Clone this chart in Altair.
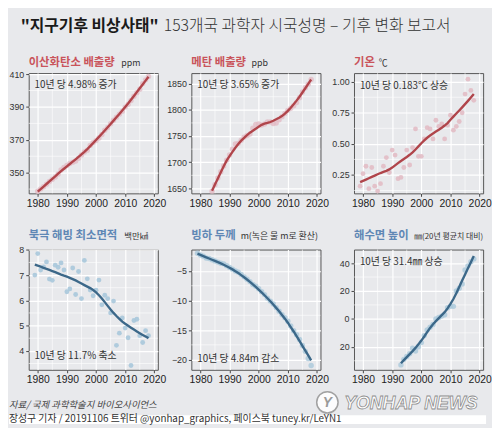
import altair as alt
import pandas as pd

# ---------------- data ----------------
YEARS_CO2 = list(range(1980, 2019))
CO2 = [338.7, 340.1, 341.4, 343.0, 344.6, 346.0, 347.4, 349.2, 351.6, 353.1,
       354.4, 355.6, 356.4, 357.1, 358.8, 360.8, 362.6, 363.7, 366.6, 368.3,
       369.5, 371.1, 373.2, 375.8, 377.5, 379.8, 381.9, 383.8, 385.6, 387.4,
       389.9, 391.6, 393.9, 396.5, 398.6, 400.8, 404.2, 406.5, 408.5]

YEARS_CH4 = list(range(1984, 2019))
CH4 = [1644.8, 1657, 1670, 1682, 1693, 1704, 1714, 1725, 1735, 1736,
       1742, 1748, 1751, 1754, 1765, 1772, 1773, 1771, 1773, 1777,
       1777, 1774, 1775, 1781, 1787, 1793, 1799, 1803, 1808, 1814,
       1823, 1834, 1842, 1849, 1858]

YEARS_TEMP = list(range(1979, 2019))
TEMP = [0.16, 0.26, 0.32, 0.14, 0.31, 0.16, 0.12, 0.18, 0.32, 0.39,
        0.27, 0.45, 0.41, 0.22, 0.23, 0.31, 0.45, 0.33, 0.47, 0.62,
        0.40, 0.40, 0.54, 0.63, 0.62, 0.54, 0.69, 0.64, 0.66, 0.54,
        0.65, 0.73, 0.61, 0.64, 0.68, 0.75, 0.90, 1.02, 0.93, 0.85]

YEARS_ICE = list(range(1979, 2019))
ICE = [7.00, 7.85, 7.20, 7.32, 7.52, 6.84, 6.79, 7.39, 7.31, 7.48,
       7.20, 6.34, 6.45, 7.28, 6.23, 7.14, 6.07, 7.58, 6.85, 6.41,
       6.18, 6.40, 6.80, 5.82, 6.20, 6.07, 5.50, 5.97, 4.22, 4.70,
       5.30, 4.90, 4.52, 3.42, 5.20, 5.25, 4.60, 4.33, 4.80, 4.60]

YEARS_GLACIER = list(range(1979, 2019))
GLACIER = [-2.0, -2.3, -2.5, -2.8, -2.9, -3.1, -3.3, -3.5, -3.7, -3.8,
           -4.1, -4.4, -4.7, -5.0, -5.2, -5.6, -6.0, -6.4, -6.8, -7.3,
           -7.6, -8.0, -8.5, -9.0, -9.6, -10.1, -10.6, -11.2, -11.8, -12.4,
           -12.9, -13.5, -14.3, -15.1, -15.8, -16.6, -17.6, -18.6, -19.8, -21.0]

YEARS_SEA = list(range(1993, 2019))
SEA = [-33, -29, -27, -25, -21, -23, -20, -17, -12, -8,
       -6, -4, 0, 1, 2, 3, 8, 9, 9, 20,
       22, 25, 35, 38, 41, 43]

X_TICKS = [1980, 1990, 2000, 2010, 2020]
X_MINOR = [1985, 1995, 2005, 2015]

TITLE_BOLD = '"지구기후 비상사태"'
TITLE_REST = "153개국 과학자 시국성명 – 기후 변화 보고서"
PANEL_TITLES = ["이산화탄소 배출량", "메탄 배출량", "기온",
                "북극 해빙 최소면적", "빙하 두께", "해수면 높이"]
PANEL_UNITS = ["ppm", "ppb", "℃", "백만㎢", "m(녹은 물 m로 환산)", "㎜(20년 평균치 대비)"]
ANNOTATIONS = ["10년 당 4.98% 증가", "10년 당 3.65% 증가", "10년 당 0.183℃ 상승",
               "10년 당 11.7% 축소", "10년 당 4.84m 감소", "10년 당 31.4㎜ 상승"]
SOURCE = "자료/ 국제 과학학술지 바이오사이언스"
CREDIT = "장성구 기자 / 20191106 트위터 @yonhap_graphics, 페이스북 tuney.kr/LeYN1"
WATERMARK = "YONHAP NEWS"

# ---------------- style ----------------
KFONT = "Noto Sans CJK KR"
AFONT = "Liberation Sans"
BG = "#e8e9ec"
RED_T, RED_L, RED_P = "#c9545b", "#b0454b", "#e2bcc5"
BLUE_T, BLUE_L, BLUE_P = "#5f87b5", "#3c6889", "#a9c8db"
W, H = 131, 122
XDOM = [1976.9, 2021.2]


def txt(s, x, y, size, color, weight="normal", align="left", font=KFONT,
        style="normal", baseline="middle", **kw):
    return alt.Chart(pd.DataFrame({"t": [s]})).mark_text(
        align=align, baseline=baseline, fontSize=size, color=color,
        fontWeight=weight, font=font, fontStyle=style, **kw
    ).encode(x=alt.value(x), y=alt.value(y), text="t:N")


def panel(years, vals, ydom, yticks, yminor, yfmt, pcol, lcol, tcol, bw,
          idx, unit_x, unit_size, ann_y, title_y, psize, popac,
          label_expr=None, extra=()):
    df = pd.DataFrame({"year": years, "val": vals})
    xs = alt.Scale(domain=XDOM, nice=False, zero=False)
    ys = alt.Scale(domain=ydom, nice=False, zero=False)
    xaxis = alt.Axis(values=X_TICKS, format="d", title=None, domain=False,
                     grid=True, gridColor="white", gridWidth=1.2,
                     tickColor="#444", tickSize=3, labelFont=AFONT,
                     labelFontSize=10.5, labelColor="#222", labelPadding=2)
    yargs = dict(values=yticks, format=yfmt, title=None, domain=False,
                 grid=True, gridColor="white", gridWidth=1.2,
                 tickColor="#444", tickSize=3, labelFont=AFONT,
                 labelFontSize=9, labelColor="#333", labelPadding=2)
    if label_expr:
        yargs["labelExpr"] = label_expr
    yaxis = alt.Axis(**yargs)

    X = lambda f: alt.X(f, scale=xs, axis=xaxis)
    Y = lambda f: alt.Y(f, scale=ys, axis=yaxis)

    xmin = alt.Chart(pd.DataFrame({"v": X_MINOR})).mark_rule(
        color="white", strokeWidth=0.6).encode(x=X("v:Q"))
    ymin = alt.Chart(pd.DataFrame({"v": yminor})).mark_rule(
        color="white", strokeWidth=0.6).encode(y=Y("v:Q"))
    base = alt.Chart(df)
    pts = base.mark_circle(size=psize, color=pcol, opacity=popac).encode(
        x=X("year:Q"), y=Y("val:Q"))
    line = base.transform_loess("year", "val", bandwidth=bw).mark_line(
        color=lcol, strokeWidth=2.4).encode(x=X("year:Q"), y=Y("val:Q"))
    t1 = txt(PANEL_TITLES[idx], 0, title_y, 11.5, tcol, weight="bold",
             baseline="alphabetic")
    t2 = txt(PANEL_UNITS[idx], unit_x, title_y, unit_size, "#333",
             baseline="alphabetic")
    t3 = txt(ANNOTATIONS[idx], 6, ann_y, 10, "#333")
    return alt.layer(xmin, ymin, pts, line, t1, t2, t3, *extra).properties(
        width=W, height=H)


# top title (relative to panel 1 plot area, left=28, top=70 on the page)
top_title = [
    txt(TITLE_BOLD, -8, -47.5, 16, "#1a1a1a", weight="bold"),
    txt(TITLE_REST, 137, -47.5, 16, "#333333", weight=300),
]

# footer (relative to panel 4 plot area, left=28, top=249 on the page)
frame = alt.Chart(pd.DataFrame({"t": [0]})).mark_rect(opacity=0).encode(
    x=alt.value(-20), x2=alt.value(464), y=alt.value(-241), y2=alt.value(177))
strip = alt.Chart(pd.DataFrame({"t": [0]})).mark_rect(color="white").encode(
    x=alt.value(-20), x2=alt.value(464), y=alt.value(168), y2=alt.value(177))
logo = alt.Chart(pd.DataFrame({"t": [0]})).mark_point(
    shape="circle", size=470, filled=True, color="white", stroke="#9a9a9a",
    strokeWidth=1.5, opacity=0.9).encode(x=alt.value(303), y=alt.value(155))
footer = [
    frame, strip,
    txt(SOURCE, -20, 157.5, 9.5, "#444", style="italic"),
    txt(CREDIT, -20, 172, 10, "#333"),
    logo,
    txt("Y", 303, 156, 14, "#9a9a9a", weight="bold", align="center",
        font=AFONT, style="italic"),
    txt(WATERMARK, 320, 157, 18, "white", weight="bold", font=AFONT,
        style="italic", stroke="#8d8d8d", strokeWidth=0.8),
]

p1 = panel(YEARS_CO2, CO2, [337.4, 410.6], [350, 370, 390, 410],
           [340, 360, 380, 400], "d", RED_P, RED_L, RED_T, 0.4, 0,
           94, 9, 12, -7, 30, 0.8, extra=top_title)
p2 = panel(YEARS_CH4, CH4, [1640.6, 1870.1], [1650, 1700, 1750, 1800, 1850],
           [1675, 1725, 1775, 1825], "d", RED_P, RED_L, RED_T, 0.3, 1,
           61, 9, 12, -7, 30, 0.8)
p3 = panel(YEARS_TEMP, TEMP, [0.102, 1.069], [0.25, 0.5, 0.75, 1.0],
           [0.125, 0.375, 0.625, 0.875], ".2f", RED_P, RED_L, RED_T, 0.5, 2,
           25, 9, 13, -7, 24, 0.9)
p4 = panel(YEARS_ICE, ICE, [3.25, 8.01], [4, 5, 6, 7, 8],
           [3.5, 4.5, 5.5, 6.5, 7.5], "d", BLUE_P, BLUE_L, BLUE_T, 0.5, 3,
           97, 8.5, 108, -10.3, 24, 0.9, extra=footer)
p5 = panel(YEARS_GLACIER, GLACIER, [-21.72, -1.38], [-20, -15, -10, -5],
           [-17.5, -12.5, -7.5, -2.5], "d", BLUE_P, BLUE_L, BLUE_T, 0.35, 4,
           50, 9, 111, -10.3, 30, 0.8)
p6 = panel(YEARS_SEA, SEA, [-36.5, 49.7], [-20, 0, 20, 40],
           [-30, -10, 10, 30], "d", BLUE_P, BLUE_L, BLUE_T, 0.4, 5,
           61, 8, 13, -10.3, 30, 0.8,
           label_expr="format(abs(datum.value), 'd')")

chart = alt.concat(p1, p2, p3, p4, p5, p6, columns=3,
                   spacing={"row": 57, "column": 34}, bounds="flush").properties(
    padding=0, background=BG
).configure_view(stroke="#555", strokeWidth=1)

chart.save("out.html", embed_options={"renderer": "svg", "actions": False})
